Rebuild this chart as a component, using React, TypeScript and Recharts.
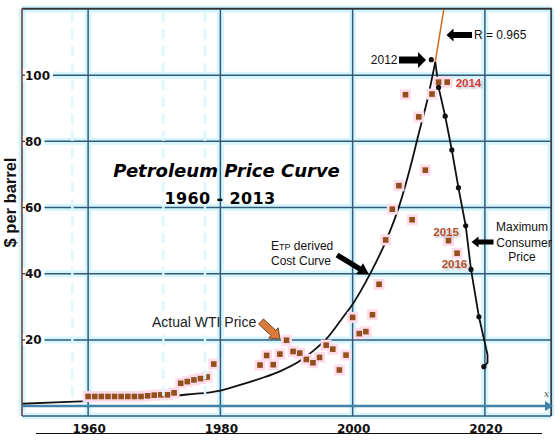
import React from 'react'
import { ComposedChart, Line, Scatter, XAxis, YAxis, CartesianGrid } from 'recharts'

const yearTicks = [1960, 1980, 2000, 2020]
const priceTicks = [20, 40, 60, 80, 100]

// actual WTI price, $ per barrel (as plotted)
const wtiYears = [
  1960, 1961, 1962, 1963, 1964, 1965, 1966, 1967, 1968, 1969,
  1970, 1971, 1972, 1973, 1974, 1975, 1976, 1977, 1978, 1979,
  1986, 1987, 1988, 1989, 1990, 1991, 1992, 1993, 1994, 1995,
  1996, 1997, 1998, 1999, 2000, 2001, 2002, 2003, 2004, 2005,
  2006, 2007, 2008, 2009, 2010, 2011, 2012, 2013, 2014.3, 2014.5, 2015.8,
]
const wtiPrices = [
  2.9, 2.9, 2.9, 2.9, 2.9, 2.9, 2.9, 2.9, 2.9, 3.1,
  3.3, 3.4, 3.4, 4.0, 6.9, 7.4, 7.9, 8.3, 8.8, 12.7,
  12.4, 15.3, 12.5, 15.7, 19.9, 16.5, 16.0, 14.1, 13.1, 14.7,
  18.4, 17.2, 10.9, 15.4, 26.8, 21.9, 22.5, 27.6, 36.8, 50.2,
  59.5, 66.6, 94.1, 56.3, 87.4, 71.3, 94.3, 97.9, 97.9, 50.0, 46.2,
]

// ETP derived cost curve, rising side
const costUpYears = [
  1950, 1955, 1960, 1965, 1970, 1975, 1980, 1983, 1986, 1989, 1992,
  1994, 1996, 1998.6, 2000, 2002.6, 2005, 2007, 2009, 2010, 2011.3, 2012.5,
]
const costUpValues = [
  0.7, 1.1, 1.5, 1.9, 2.6, 3.5, 4.7, 6.4, 8.3, 10.5, 13.6,
  16.6, 20.2, 27.0, 30.8, 39.8, 49.7, 60.2, 74.3, 82.4, 92.5, 104,
]

// falling side after the peak
const costDownYears = [2012.5, 2013.0, 2014.0, 2015.0, 2016.0, 2017.1, 2017.9, 2019.1, 2020.4, 2020.4, 2019.85]
const costDownValues = [104, 96.3, 87.6, 77.4, 66.0, 54.5, 41.3, 27.0, 15.5, 13.1, 11.9]

// black markers on the curve
const markerYears = [2011.9, 2013.0, 2014.0, 2015.0, 2016.0, 2017.1, 2017.9, 2019.1, 2019.85]
const markerValues = [104.7, 96.3, 87.6, 77.4, 66.0, 54.5, 41.3, 27.0, 11.9]

// R = 0.965 trend
const trendYears = [2012.5, 2013.8]
const trendValues = [104, 120]

const toPoints = (xs: number[], ys: number[]) => xs.map((year, i) => ({ year, value: ys[i] }))

const wtiData = toPoints(wtiYears, wtiPrices)
const costUp = toPoints(costUpYears, costUpValues)
const costDown = toPoints(costDownYears, costDownValues)
const markers = toPoints(markerYears, markerValues)
const trend = toPoints(trendYears, trendValues)

const SANS = '"Liberation Sans", Arial, sans-serif'
const DEJA = '"DejaVu Sans", Verdana, sans-serif'

const PLOT_LEFT = 22

function XTick({ x, y, payload }: any) {
  return (
    <text x={x + 1} y={y + 17} textAnchor="middle" fontFamily={DEJA} fontWeight="bold" fontSize={12} fill="#111">
      {payload.value}
    </text>
  )
}

function YTick({ y, payload }: any) {
  const x = PLOT_LEFT
  const w = String(payload.value).length * 8.4 + 5
  return (
    <g>
      <rect x={x + 0.7} y={y - 6} width={w} height={12} fill="#fff" />
      <line x1={x} x2={x + 3} y1={y} y2={y} stroke="#222" strokeWidth={1.2} />
      <text x={x + 3} y={y + 4.4} fontFamily={DEJA} fontWeight="bold" fontSize={12} fill="#111">
        {payload.value}
      </text>
    </g>
  )
}

const Halo = ({ cx, cy }: any) => <rect x={cx - 5.5} y={cy - 5.5} width={11} height={11} fill="#ffdcec" />
const Square = ({ cx, cy }: any) => <rect x={cx - 2.8} y={cy - 2.8} width={5.6} height={5.6} fill="#92501c" />
const Dot = ({ cx, cy }: any) => <circle cx={cx} cy={cy} r={2.6} fill="#111" />

function blockArrow(x1: number, y1: number, x2: number, y2: number, shaft: number, head: number, headLen: number) {
  const len = Math.hypot(x2 - x1, y2 - y1)
  const ux = (x2 - x1) / len
  const uy = (y2 - y1) / len
  const px = -uy
  const py = ux
  const bx = x2 - ux * headLen
  const by = y2 - uy * headLen
  const s = shaft / 2
  const h = head / 2
  const pts = [
    [x1 + px * s, y1 + py * s],
    [bx + px * s, by + py * s],
    [bx + px * h, by + py * h],
    [x2, y2],
    [bx - px * h, by - py * h],
    [bx - px * s, by - py * s],
    [x1 - px * s, y1 - py * s],
  ]
  return 'M' + pts.map(p => p.map(v => v.toFixed(1)).join(',')).join('L') + 'Z'
}

function Overlay() {
  return (
    <svg width={560} height={443} style={{ position: 'absolute', left: 0, top: 0, pointerEvents: 'none' }}>
      <defs>
        <filter id="soft" x="-20%" y="-40%" width="150%" height="190%">
          <feDropShadow dx="1.5" dy="1.5" stdDeviation="1.2" floodColor="#777" floodOpacity="0.6" />
        </filter>
      </defs>

      {/* faint ghost verticals */}
      {[72.3, 163.3, 205].map(x => (
        <line key={x} x1={x} x2={x} y1={12} y2={400} stroke="#dcf7fc" strokeWidth={2.5} strokeDasharray="10 7" />
      ))}

      {/* frame */}
      <line x1={22} x2={552} y1={8.5} y2={8.5} stroke="#3a3030" strokeWidth={1.3} />
      <line x1={551.5} x2={551.5} y1={8} y2={416} stroke="#4a3838" strokeWidth={1.2} />
      <line x1={22} x2={22} y1={8} y2={416} stroke="#9a5545" strokeWidth={1.3} />

      {/* x axis arrow */}
      <line x1={22} x2={546} y1={406} y2={406} stroke="#4283a8" strokeWidth={2.5} />
      <path d="M545,401 L553,406 L545,411 Z" fill="#4283a8" />
      <text x={544} y={397} fontFamily="'DejaVu Serif', serif" fontStyle="italic" fontSize={9} fill="#555">x</text>
      <line x1={36} x2={542} y1={433.5} y2={433.5} stroke="#111" strokeWidth={1} />

      {/* y axis label */}
      <text
        transform="translate(15.5,202.5) rotate(-90)"
        textAnchor="middle"
        fontFamily={SANS}
        fontWeight="bold"
        fontSize={16.5}
        fill="#111"
      >
        $ per barrel
      </text>

      {/* title */}
      <text x={226.5} y={177} textAnchor="middle" fontFamily={DEJA} fontWeight="bold" fontStyle="italic" fontSize={18} fill="#000">
        Petroleum Price Curve
      </text>
      <text x={220} y={204} textAnchor="middle" fontFamily={DEJA} fontWeight="bold" fontSize={16} letterSpacing={0.4} fill="#000">
        1960 - 2013
      </text>

      {/* 2012 / R annotations */}
      <text x={397.5} y={64.3} textAnchor="end" fontFamily={SANS} fontSize={12} fill="#111">2012</text>
      <path d={blockArrow(399, 60, 426, 60, 7, 16, 8)} fill="#000" />
      <text x={474} y={39.3} fontFamily={SANS} fontSize={12} fill="#111">R = 0.965</text>
      <path d={blockArrow(472, 35, 446.5, 35, 6, 13, 7)} fill="#000" />

      {/* year labels */}
      <g filter="url(#soft)" fontFamily={SANS} fontWeight="bold" fontSize={11.5}>
        <text x={455.7} y={86.5} fill="#d43a3a">2014</text>
        <text x={433.3} y={235.5} fill="#b5502c">2015</text>
        <text x={441.7} y={268} fill="#b5502c">2016</text>
      </g>

      {/* maximum consumer price */}
      <g fontFamily={SANS} fontSize={12} fill="#111" textAnchor="middle">
        <text x={522} y={231}>Maximum</text>
        <text x={524} y={246.5}>Consumer</text>
        <text x={522} y={260.7}>Price</text>
      </g>
      <path d={blockArrow(493.5, 242, 471.5, 242, 5, 11, 7)} fill="#000" />

      {/* cost curve label */}
      <text x={271} y={250} fontFamily={SANS} fontSize={12} fill="#111">
        E<tspan fontSize={9}>TP</tspan> derived
      </text>
      <text x={271} y={265} fontFamily={SANS} fontSize={12} fill="#111">Cost Curve</text>
      <path d={blockArrow(337, 255, 369, 274.5, 5.5, 13, 11)} fill="#000" />

      {/* WTI label */}
      <text x={152} y={326.5} fontFamily={SANS} fontSize={14} fill="#222">Actual WTI Price</text>
      <path d={blockArrow(261, 321.5, 280, 339, 7, 14, 9)} fill="#dc7a3c" stroke="#6b4a2a" strokeWidth={1} />
    </svg>
  )
}

export default function App() {
  return (
    <div style={{ position: 'fixed', left: 0, top: 0, width: 560, height: 443, background: '#fff', overflow: 'hidden' }}>
      <ComposedChart width={560} height={443} margin={{ top: 9, right: 9, bottom: 0, left: 20 }}>
        <CartesianGrid stroke="#d6f6fd" strokeWidth={7} />
        <CartesianGrid stroke="#34597a" strokeWidth={1.5} />
        <XAxis
          type="number" dataKey="year"
          domain={[1950, 2030]} ticks={yearTicks} interval={0}
          allowDataOverflow
          axisLine={false} tickLine={false} tickSize={0} tickMargin={0}
          height={27}
          tick={<XTick />}
        />
        <YAxis
          type="number" dataKey="value"
          domain={[-3, 120]} ticks={priceTicks} interval={0}
          allowDataOverflow
          axisLine={false} tickLine={false} tickSize={0} tickMargin={0}
          width={2}
          tick={<YTick />}
        />
        <Scatter data={wtiData} shape={<Halo />} isAnimationActive={false} />
        <Scatter data={wtiData} shape={<Square />} isAnimationActive={false} />
        <Line data={costUp} dataKey="value" type="monotone" stroke="#111" strokeWidth={1.8} dot={false} isAnimationActive={false} />
        <Line data={costDown} dataKey="value" type="linear" stroke="#111" strokeWidth={1.8} dot={false} isAnimationActive={false} />
        <Line data={trend} dataKey="value" type="linear" stroke="#d2691e" strokeWidth={1.5} dot={false} isAnimationActive={false} />
        <Scatter data={markers} shape={<Dot />} isAnimationActive={false} />
      </ComposedChart>
      <Overlay />
    </div>
  )
}
